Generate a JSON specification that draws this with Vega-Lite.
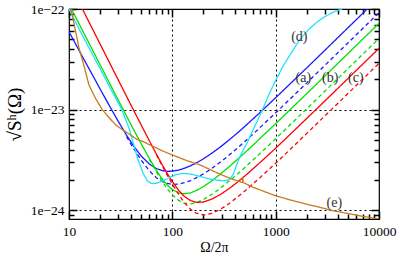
{
"$schema": "https://vega.github.io/schema/vega-lite/v6.json",
"width": 310, "height": 210,
"autosize": "none",
"padding": {"left": 69, "top": 9, "right": 20, "bottom": 35},
"config": {"view": {"stroke": "#000", "strokeWidth": 1.2}, "font": "Liberation Serif",
  "axis": {"labelFont": "Liberation Serif", "titleFont": "Liberation Serif", "labelColor": "#000", "titleColor": "#000", "titleFontWeight": "normal", "labelFontSize": 13, "titleFontSize": 13, "domain": false, "tickColor": "#000", "tickWidth": 1.5}},
"datasets": {
"curves": [
{"d":"a","s":"solid","f":10,"S":5.95e-23},{"d":"a","s":"solid","f":13,"S":3.61e-23},{"d":"a","s":"solid","f":16,"S":2.44e-23},{"d":"a","s":"solid","f":20,"S":1.605e-23},{"d":"a","s":"solid","f":25,"S":1.062e-23},{"d":"a","s":"solid","f":30,"S":7.64e-24},{"d":"a","s":"solid","f":36,"S":5.59e-24},{"d":"a","s":"solid","f":42,"S":4.38e-24},{"d":"a","s":"solid","f":50,"S":3.46e-24},{"d":"a","s":"solid","f":60,"S":2.88e-24},{"d":"a","s":"solid","f":70,"S":2.60e-24},{"d":"a","s":"solid","f":80,"S":2.48e-24},{"d":"a","s":"solid","f":90,"S":2.44e-24},{"d":"a","s":"solid","f":100,"S":2.45e-24},{"d":"a","s":"solid","f":115,"S":2.51e-24},{"d":"a","s":"solid","f":130,"S":2.61e-24},{"d":"a","s":"solid","f":150,"S":2.77e-24},{"d":"a","s":"solid","f":170,"S":2.95e-24},{"d":"a","s":"solid","f":200,"S":3.25e-24},{"d":"a","s":"solid","f":240,"S":3.68e-24},{"d":"a","s":"solid","f":290,"S":4.24e-24},{"d":"a","s":"solid","f":350,"S":4.95e-24},{"d":"a","s":"solid","f":420,"S":5.79e-24},{"d":"a","s":"solid","f":500,"S":6.78e-24},{"d":"a","s":"solid","f":700,"S":9.30e-24},{"d":"a","s":"solid","f":1000,"S":1.314e-23},{"d":"a","s":"solid","f":1500,"S":1.96e-23},{"d":"a","s":"solid","f":2000,"S":2.6e-23},{"d":"a","s":"solid","f":3000,"S":3.9e-23},{"d":"a","s":"solid","f":5000,"S":6.5e-23},{"d":"a","s":"solid","f":7000,"S":9.1e-23},{"d":"a","s":"solid","f":8000,"S":1.04e-22},
{"d":"a","s":"dashed","f":36,"S":5.40e-24},{"d":"a","s":"dashed","f":42,"S":4.14e-24},{"d":"a","s":"dashed","f":50,"S":3.15e-24},{"d":"a","s":"dashed","f":60,"S":2.47e-24},{"d":"a","s":"dashed","f":70,"S":2.11e-24},{"d":"a","s":"dashed","f":80,"S":1.93e-24},{"d":"a","s":"dashed","f":90,"S":1.85e-24},{"d":"a","s":"dashed","f":100,"S":1.81e-24},{"d":"a","s":"dashed","f":115,"S":1.82e-24},{"d":"a","s":"dashed","f":130,"S":1.88e-24},{"d":"a","s":"dashed","f":150,"S":1.97e-24},{"d":"a","s":"dashed","f":170,"S":2.10e-24},{"d":"a","s":"dashed","f":200,"S":2.30e-24},{"d":"a","s":"dashed","f":240,"S":2.60e-24},{"d":"a","s":"dashed","f":290,"S":3.0e-24},{"d":"a","s":"dashed","f":350,"S":3.50e-24},{"d":"a","s":"dashed","f":420,"S":4.10e-24},{"d":"a","s":"dashed","f":500,"S":4.80e-24},{"d":"a","s":"dashed","f":700,"S":6.58e-24},{"d":"a","s":"dashed","f":1000,"S":9.30e-24},{"d":"a","s":"dashed","f":1500,"S":1.387e-23},{"d":"a","s":"dashed","f":2000,"S":1.845e-23},{"d":"a","s":"dashed","f":3000,"S":2.76e-23},{"d":"a","s":"dashed","f":5000,"S":4.6e-23},{"d":"a","s":"dashed","f":7000,"S":6.44e-23},{"d":"a","s":"dashed","f":10000,"S":9.2e-23},
{"d":"b","s":"solid","f":10,"S":1.116e-22},{"d":"b","s":"solid","f":13,"S":6.60e-23},{"d":"b","s":"solid","f":16,"S":4.36e-23},{"d":"b","s":"solid","f":20,"S":2.79e-23},{"d":"b","s":"solid","f":25,"S":1.785e-23},{"d":"b","s":"solid","f":30,"S":1.24e-23},{"d":"b","s":"solid","f":36,"S":8.65e-24},{"d":"b","s":"solid","f":42,"S":6.39e-24},{"d":"b","s":"solid","f":50,"S":4.57e-24},{"d":"b","s":"solid","f":60,"S":3.26e-24},{"d":"b","s":"solid","f":70,"S":2.50e-24},{"d":"b","s":"solid","f":80,"S":2.04e-24},{"d":"b","s":"solid","f":90,"S":1.77e-24},{"d":"b","s":"solid","f":100,"S":1.61e-24},{"d":"b","s":"solid","f":115,"S":1.49e-24},{"d":"b","s":"solid","f":130,"S":1.46e-24},{"d":"b","s":"solid","f":150,"S":1.49e-24},{"d":"b","s":"solid","f":170,"S":1.57e-24},{"d":"b","s":"solid","f":200,"S":1.72e-24},{"d":"b","s":"solid","f":240,"S":1.96e-24},{"d":"b","s":"solid","f":290,"S":2.28e-24},{"d":"b","s":"solid","f":350,"S":2.68e-24},{"d":"b","s":"solid","f":420,"S":3.16e-24},{"d":"b","s":"solid","f":500,"S":3.71e-24},{"d":"b","s":"solid","f":700,"S":5.13e-24},{"d":"b","s":"solid","f":1000,"S":7.27e-24},{"d":"b","s":"solid","f":1500,"S":1.085e-23},{"d":"b","s":"solid","f":2000,"S":1.442e-23},{"d":"b","s":"solid","f":3000,"S":2.163e-23},{"d":"b","s":"solid","f":5000,"S":3.605e-23},{"d":"b","s":"solid","f":7000,"S":5.05e-23},{"d":"b","s":"solid","f":10000,"S":7.21e-23},
{"d":"b","s":"dashed","f":60,"S":3.20e-24},{"d":"b","s":"dashed","f":70,"S":2.42e-24},{"d":"b","s":"dashed","f":80,"S":1.93e-24},{"d":"b","s":"dashed","f":90,"S":1.62e-24},{"d":"b","s":"dashed","f":100,"S":1.425e-24},{"d":"b","s":"dashed","f":115,"S":1.255e-24},{"d":"b","s":"dashed","f":130,"S":1.18e-24},{"d":"b","s":"dashed","f":150,"S":1.16e-24},{"d":"b","s":"dashed","f":170,"S":1.19e-24},{"d":"b","s":"dashed","f":200,"S":1.28e-24},{"d":"b","s":"dashed","f":240,"S":1.434e-24},{"d":"b","s":"dashed","f":290,"S":1.65e-24},{"d":"b","s":"dashed","f":350,"S":1.93e-24},{"d":"b","s":"dashed","f":420,"S":2.26e-24},{"d":"b","s":"dashed","f":500,"S":2.65e-24},{"d":"b","s":"dashed","f":700,"S":3.64e-24},{"d":"b","s":"dashed","f":1000,"S":5.15e-24},{"d":"b","s":"dashed","f":1500,"S":7.68e-24},{"d":"b","s":"dashed","f":2000,"S":1.02e-23},{"d":"b","s":"dashed","f":3000,"S":1.53e-23},{"d":"b","s":"dashed","f":5000,"S":2.55e-23},{"d":"b","s":"dashed","f":7000,"S":3.57e-23},{"d":"b","s":"dashed","f":10000,"S":5.1e-23},
{"d":"c","s":"solid","f":13,"S":1.076e-22},{"d":"c","s":"solid","f":16,"S":7.06e-23},{"d":"c","s":"solid","f":20,"S":4.49e-23},{"d":"c","s":"solid","f":25,"S":2.85e-23},{"d":"c","s":"solid","f":30,"S":1.97e-23},{"d":"c","s":"solid","f":36,"S":1.36e-23},{"d":"c","s":"solid","f":42,"S":9.95e-24},{"d":"c","s":"solid","f":50,"S":7.03e-24},{"d":"c","s":"solid","f":60,"S":4.90e-24},{"d":"c","s":"solid","f":70,"S":3.63e-24},{"d":"c","s":"solid","f":80,"S":2.82e-24},{"d":"c","s":"solid","f":90,"S":2.29e-24},{"d":"c","s":"solid","f":100,"S":1.93e-24},{"d":"c","s":"solid","f":115,"S":1.58e-24},{"d":"c","s":"solid","f":130,"S":1.38e-24},{"d":"c","s":"solid","f":150,"S":1.25e-24},{"d":"c","s":"solid","f":170,"S":1.20e-24},{"d":"c","s":"solid","f":200,"S":1.21e-24},{"d":"c","s":"solid","f":240,"S":1.29e-24},{"d":"c","s":"solid","f":290,"S":1.43e-24},{"d":"c","s":"solid","f":350,"S":1.63e-24},{"d":"c","s":"solid","f":420,"S":1.88e-24},{"d":"c","s":"solid","f":500,"S":2.18e-24},{"d":"c","s":"solid","f":700,"S":2.96e-24},{"d":"c","s":"solid","f":1000,"S":4.14e-24},{"d":"c","s":"solid","f":1500,"S":6.16e-24},{"d":"c","s":"solid","f":2000,"S":8.18e-24},{"d":"c","s":"solid","f":3000,"S":1.223e-23},{"d":"c","s":"solid","f":5000,"S":2.035e-23},{"d":"c","s":"solid","f":7000,"S":2.85e-23},{"d":"c","s":"solid","f":10000,"S":4.07e-23},
{"d":"c","s":"dashed","f":70,"S":3.58e-24},{"d":"c","s":"dashed","f":80,"S":2.76e-24},{"d":"c","s":"dashed","f":90,"S":2.20e-24},{"d":"c","s":"dashed","f":100,"S":1.82e-24},{"d":"c","s":"dashed","f":115,"S":1.44e-24},{"d":"c","s":"dashed","f":130,"S":1.20e-24},{"d":"c","s":"dashed","f":150,"S":1.026e-24},{"d":"c","s":"dashed","f":170,"S":9.38e-25},{"d":"c","s":"dashed","f":200,"S":9.0e-25},{"d":"c","s":"dashed","f":240,"S":9.3e-25},{"d":"c","s":"dashed","f":290,"S":1.02e-24},{"d":"c","s":"dashed","f":350,"S":1.157e-24},{"d":"c","s":"dashed","f":420,"S":1.336e-24},{"d":"c","s":"dashed","f":500,"S":1.545e-24},{"d":"c","s":"dashed","f":700,"S":2.10e-24},{"d":"c","s":"dashed","f":1000,"S":2.94e-24},{"d":"c","s":"dashed","f":1500,"S":4.37e-24},{"d":"c","s":"dashed","f":2000,"S":5.81e-24},{"d":"c","s":"dashed","f":3000,"S":8.69e-24},{"d":"c","s":"dashed","f":5000,"S":1.445e-23},{"d":"c","s":"dashed","f":7000,"S":2.02e-23},{"d":"c","s":"dashed","f":10000,"S":2.89e-23},
{"d":"d","s":"solid","f":10,"S":1.0e-22},{"d":"d","s":"solid","f":13,"S":5.87e-23},{"d":"d","s":"solid","f":16,"S":3.93e-23},{"d":"d","s":"solid","f":20,"S":2.55e-23},{"d":"d","s":"solid","f":25,"S":1.65e-23},{"d":"d","s":"solid","f":30,"S":1.16e-23},{"d":"d","s":"solid","f":33,"S":9.6e-24},{"d":"d","s":"solid","f":36,"S":7.6e-24},{"d":"d","s":"solid","f":38,"S":6.6e-24},{"d":"d","s":"solid","f":42,"S":4.6e-24},{"d":"d","s":"solid","f":46,"S":3.3e-24},{"d":"d","s":"solid","f":52,"S":2.35e-24},{"d":"d","s":"solid","f":57,"S":1.98e-24},{"d":"d","s":"solid","f":62,"S":1.86e-24},{"d":"d","s":"solid","f":67,"S":1.84e-24},{"d":"d","s":"solid","f":73,"S":1.88e-24},{"d":"d","s":"solid","f":82,"S":1.97e-24},{"d":"d","s":"solid","f":95,"S":2.13e-24},{"d":"d","s":"solid","f":110,"S":2.27e-24},{"d":"d","s":"solid","f":128,"S":2.33e-24},{"d":"d","s":"solid","f":150,"S":2.29e-24},{"d":"d","s":"solid","f":185,"S":2.17e-24},{"d":"d","s":"solid","f":230,"S":2.05e-24},{"d":"d","s":"solid","f":280,"S":1.98e-24},{"d":"d","s":"solid","f":330,"S":1.97e-24},{"d":"d","s":"solid","f":360,"S":2.03e-24},{"d":"d","s":"solid","f":390,"S":2.3e-24},{"d":"d","s":"solid","f":420,"S":2.85e-24},{"d":"d","s":"solid","f":450,"S":3.4e-24},{"d":"d","s":"solid","f":486,"S":3.98e-24},{"d":"d","s":"solid","f":525,"S":4.6e-24},{"d":"d","s":"solid","f":565,"S":5.4e-24},{"d":"d","s":"solid","f":630,"S":6.9e-24},{"d":"d","s":"solid","f":706,"S":8.85e-24},{"d":"d","s":"solid","f":790,"S":1.15e-23},{"d":"d","s":"solid","f":883,"S":1.5e-23},{"d":"d","s":"solid","f":1000,"S":1.95e-23},{"d":"d","s":"solid","f":1190,"S":2.75e-23},{"d":"d","s":"solid","f":1400,"S":3.6e-23},{"d":"d","s":"solid","f":1720,"S":5.0e-23},{"d":"d","s":"solid","f":2100,"S":6.3e-23},{"d":"d","s":"solid","f":2500,"S":7.4e-23},{"d":"d","s":"solid","f":3000,"S":8.4e-23},{"d":"d","s":"solid","f":3600,"S":9.3e-23},{"d":"d","s":"solid","f":4400,"S":1.0e-22},
{"d":"e","s":"solid","f":10,"S":1.2e-22},{"d":"e","s":"solid","f":11,"S":7.8e-23},{"d":"e","s":"solid","f":11.6,"S":5.95e-23},{"d":"e","s":"solid","f":12.5,"S":4.1e-23},{"d":"e","s":"solid","f":14,"S":2.7e-23},{"d":"e","s":"solid","f":15.6,"S":1.76e-23},{"d":"e","s":"solid","f":18,"S":1.3e-23},{"d":"e","s":"solid","f":21,"S":1.0e-23},{"d":"e","s":"solid","f":24.5,"S":8.3e-24},{"d":"e","s":"solid","f":28.3,"S":7.05e-24},{"d":"e","s":"solid","f":33,"S":6.3e-24},{"d":"e","s":"solid","f":39.5,"S":5.6e-24},{"d":"e","s":"solid","f":45,"S":5.1e-24},{"d":"e","s":"solid","f":52.4,"S":4.8e-24},{"d":"e","s":"solid","f":65.5,"S":4.3e-24},{"d":"e","s":"solid","f":80,"S":3.9e-24},{"d":"e","s":"solid","f":100,"S":3.55e-24},{"d":"e","s":"solid","f":140,"S":3.1e-24},{"d":"e","s":"solid","f":185,"S":2.83e-24},{"d":"e","s":"solid","f":250,"S":2.45e-24},{"d":"e","s":"solid","f":300,"S":2.25e-24},{"d":"e","s":"solid","f":362,"S":2.08e-24},{"d":"e","s":"solid","f":420,"S":1.97e-24},{"d":"e","s":"solid","f":470,"S":1.9e-24},{"d":"e","s":"solid","f":478,"S":1.89e-24},{"d":"e","s":"solid","f":481,"S":2.15e-24},{"d":"e","s":"solid","f":484,"S":1.89e-24},{"d":"e","s":"solid","f":600,"S":1.7e-24},{"d":"e","s":"solid","f":800,"S":1.52e-24},{"d":"e","s":"solid","f":1009,"S":1.39e-24},{"d":"e","s":"solid","f":1500,"S":1.24e-24},{"d":"e","s":"solid","f":2153,"S":1.13e-24},{"d":"e","s":"solid","f":3000,"S":1.04e-24},{"d":"e","s":"solid","f":3623,"S":9.9e-25},{"d":"e","s":"solid","f":5000,"S":9.3e-25},{"d":"e","s":"solid","f":7000,"S":8.7e-25},{"d":"e","s":"solid","f":10000,"S":8.2e-25}
],
"labels": [
{"t":"(a)","f":1854,"S":2.05e-23},{"t":"(b)","f":3365,"S":2.05e-23},{"t":"(c)","f":5960,"S":2.05e-23},{"t":"(d)","f":1694,"S":5.31e-23},{"t":"(e)","f":3700,"S":1.17e-24}
],
"xt": [{"v":20},{"v":30},{"v":40},{"v":50},{"v":60},{"v":70},{"v":80},{"v":90},{"v":200},{"v":300},{"v":400},{"v":500},{"v":600},{"v":700},{"v":800},{"v":900},{"v":2000},{"v":3000},{"v":4000},{"v":5000},{"v":6000},{"v":7000},{"v":8000},{"v":9000}]
},
"resolve": {"axis": {"x": "independent", "y": "independent"}},
"layer": [
{
 "data": {"name": "curves"},
 "mark": {"type": "line", "clip": true, "strokeWidth": 1.3},
 "encoding": {
  "x": {"field": "f", "type": "quantitative",
    "scale": {"type": "log", "domain": [10, 10000], "nice": false},
    "axis": {"orient": "bottom", "title": "Ω/2π", "titlePadding": 3, "titleX": 145,
      "labelFont": "Liberation Serif", "labelFontSize": 13.5, "titleFont": "Liberation Serif", "titleFontSize": 14, "titleFontWeight": "normal",
      "values": [10,100,1000,10000], "format": "d",
      "labelPadding": 5, "labelOverlap": false, "labelFlush": false, "ticks": false,
      "grid": true, "gridColor": "#000", "gridDash": [2,3], "gridWidth": 1,
      "gridOpacity": {"condition": {"test": "datum.value==100||datum.value==1000", "value": 1}, "value": 0}}},
  "y": {"field": "S", "type": "quantitative",
    "scale": {"type": "log", "domain": [8.2e-25, 1e-22], "nice": false},
    "axis": {"orient": "left", "title": "√Sʰ(Ω)", "titlePadding": 6,
      "labelFont": "Liberation Serif", "labelFontSize": 13.5, "titleFont": "Liberation Serif", "titleFontSize": 19, "titleFontWeight": "normal",
      "values": [1e-24,1e-23,1e-22],
      "labelExpr": "replace(format(datum.value,'.0e'),'-','−')",
      "labelPadding": 5, "labelOverlap": false, "labelFlush": false, "ticks": false,
      "grid": true, "gridColor": "#000", "gridDash": [2,3], "gridWidth": 1,
      "gridOpacity": {"condition": {"test": "datum.value==1e-23||datum.value==1e-24", "value": 1}, "value": 0}}},
  "color": {"field": "d", "type": "nominal", "legend": null,
    "scale": {"domain": ["a","b","c","d","e"], "range": ["#1a1aff","#00e000","#ff0000","#22e0ff","#c87a1e"]}},
  "strokeDash": {"field": "s", "type": "nominal", "legend": null,
    "scale": {"domain": ["solid","dashed"], "range": [[1,0],[4,3]]}}
 }
},
{
 "data": {"name": "labels"},
 "mark": {"type": "text", "font": "Liberation Serif", "fontSize": 14, "color": "#333", "align": "center", "baseline": "middle"},
 "encoding": {
  "x": {"field": "f", "type": "quantitative", "axis": null},
  "y": {"field": "S", "type": "quantitative", "axis": null},
  "text": {"field": "t"}
 }
},
{
 "data": {"name": "xt"},
 "mark": {"type": "point", "opacity": 0},
 "encoding": {
  "x": {"field": "v", "type": "quantitative",
    "axis": {"orient": "bottom", "title": null, "labels": false, "grid": false, "ticks": true, "offset": -8, "tickSize": 8, "tickColor": "#000", "tickWidth": 1.5,
      "values": [10,100,1000,10000]}}
 }
},
{
 "data": {"name": "xt"},
 "mark": {"type": "point", "opacity": 0},
 "encoding": {
  "x": {"field": "v", "type": "quantitative",
    "axis": {"orient": "top", "title": null, "labels": false, "grid": false, "ticks": true, "offset": -8, "tickSize": 8, "tickColor": "#000", "tickWidth": 1.5,
      "values": [10,100,1000,10000]}}
 }
},
{
 "data": {"name": "xt"},
 "mark": {"type": "point", "opacity": 0},
 "encoding": {
  "x": {"field": "v", "type": "quantitative",
    "axis": {"orient": "bottom", "title": null, "labels": false, "grid": false, "ticks": true, "offset": -5, "tickSize": 5, "tickColor": "#000", "tickWidth": 1.5,
      "values": [20,30,40,50,60,70,80,90,200,300,400,500,600,700,800,900,2000,3000,4000,5000,6000,7000,8000,9000]}}
 }
},
{
 "data": {"name": "xt"},
 "mark": {"type": "point", "opacity": 0},
 "encoding": {
  "x": {"field": "v", "type": "quantitative",
    "axis": {"orient": "top", "title": null, "labels": false, "grid": false, "ticks": true, "offset": -5, "tickSize": 5, "tickColor": "#000", "tickWidth": 1.5,
      "values": [20,30,40,50,60,70,80,90,200,300,400,500,600,700,800,900,2000,3000,4000,5000,6000,7000,8000,9000]}}
 }
},
{
 "data": {"name": "labels"},
 "mark": {"type": "point", "opacity": 0},
 "encoding": {
  "y": {"field": "S", "type": "quantitative",
    "axis": {"orient": "left", "title": null, "labels": false, "grid": false, "ticks": true, "offset": -8, "tickSize": 8, "tickColor": "#000", "tickWidth": 1.5,
      "values": [1e-24,1e-23,1e-22]}}
 }
},
{
 "data": {"name": "labels"},
 "mark": {"type": "point", "opacity": 0},
 "encoding": {
  "y": {"field": "S", "type": "quantitative",
    "axis": {"orient": "right", "title": null, "labels": false, "grid": false, "ticks": true, "offset": -8, "tickSize": 8, "tickColor": "#000", "tickWidth": 1.5,
      "values": [1e-24,1e-23,1e-22]}}
 }
},
{
 "data": {"name": "labels"},
 "mark": {"type": "point", "opacity": 0},
 "encoding": {
  "y": {"field": "S", "type": "quantitative",
    "axis": {"orient": "left", "title": null, "labels": false, "grid": false, "ticks": true, "offset": -5, "tickSize": 5, "tickColor": "#000", "tickWidth": 1.5,
      "values": [9e-25,2e-24,3e-24,4e-24,5e-24,6e-24,7e-24,8e-24,9e-24,2e-23,3e-23,4e-23,5e-23,6e-23,7e-23,8e-23,9e-23]}}
 }
},
{
 "data": {"name": "labels"},
 "mark": {"type": "point", "opacity": 0},
 "encoding": {
  "y": {"field": "S", "type": "quantitative",
    "axis": {"orient": "right", "title": null, "labels": false, "grid": false, "ticks": true, "offset": -5, "tickSize": 5, "tickColor": "#000", "tickWidth": 1.5,
      "values": [9e-25,2e-24,3e-24,4e-24,5e-24,6e-24,7e-24,8e-24,9e-24,2e-23,3e-23,4e-23,5e-23,6e-23,7e-23,8e-23,9e-23]}}
 }
}
]
}
